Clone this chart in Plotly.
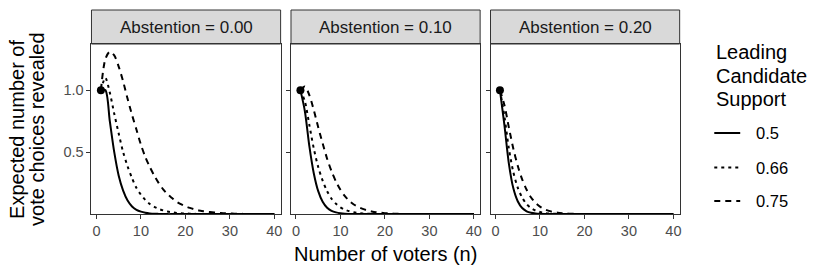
import plotly.graph_objects as go

# ---------------- data ----------------
n_voters = [1, 2, 3, 4, 5, 6, 7, 8, 9, 10,
            11, 12, 13, 14, 15, 16, 17, 18, 19, 20,
            21, 22, 23, 24, 25, 26, 27, 28, 29, 30,
            31, 32, 33, 34, 35, 36, 37, 38, 39, 40]

abstention_labels = ["Abstention = 0.00", "Abstention = 0.10", "Abstention = 0.20"]
support_labels = ["0.5", "0.66", "0.75"]

# Abstention = 0.00
a00_s050 = [1.00, 1.00, 0.75, 0.50, 0.31, 0.19, 0.11, 0.062, 0.035, 0.020,
            0.011, 0.006, 0.003, 0.002, 0.001, 0.0, 0.0, 0.0, 0.0, 0.0,
            0.0, 0.0, 0.0, 0.0, 0.0, 0.0, 0.0, 0.0, 0.0, 0.0,
            0.0, 0.0, 0.0, 0.0, 0.0, 0.0, 0.0, 0.0, 0.0, 0.0]
a00_s066 = [1.00, 1.10, 0.98, 0.81, 0.65, 0.50, 0.385, 0.29, 0.21, 0.157,
            0.114, 0.082, 0.059, 0.042, 0.030, 0.021, 0.015, 0.010, 0.007, 0.005,
            0.0035, 0.0024, 0.0016, 0.0011, 0.0008, 0.0005, 0.0003, 0.0002, 0.0001, 0.0,
            0.0, 0.0, 0.0, 0.0, 0.0, 0.0, 0.0, 0.0, 0.0, 0.0]
a00_s075 = [1.00, 1.25, 1.31, 1.28, 1.19, 1.07, 0.93, 0.80, 0.68, 0.56,
            0.46, 0.38, 0.31, 0.25, 0.20, 0.16, 0.13, 0.10, 0.080, 0.063,
            0.050, 0.039, 0.030, 0.024, 0.019, 0.015, 0.011, 0.009, 0.007, 0.005,
            0.004, 0.003, 0.002, 0.0017, 0.0013, 0.001, 0.0008, 0.0006, 0.0005, 0.0004]

# Abstention = 0.10
a10_s050 = [1.00, 0.83, 0.55, 0.33, 0.185, 0.10, 0.052, 0.027, 0.014, 0.007,
            0.003, 0.0016, 0.0007, 0.0003, 0.0, 0.0, 0.0, 0.0, 0.0, 0.0,
            0.0, 0.0, 0.0, 0.0, 0.0, 0.0, 0.0, 0.0, 0.0, 0.0,
            0.0, 0.0, 0.0, 0.0, 0.0, 0.0, 0.0, 0.0, 0.0, 0.0]
a10_s066 = [1.00, 0.91, 0.72, 0.53, 0.38, 0.27, 0.185, 0.124, 0.083, 0.055,
            0.036, 0.023, 0.015, 0.0095, 0.006, 0.004, 0.0024, 0.0015, 0.001, 0.0006,
            0.0004, 0.0002, 0.0, 0.0, 0.0, 0.0, 0.0, 0.0, 0.0, 0.0,
            0.0, 0.0, 0.0, 0.0, 0.0, 0.0, 0.0, 0.0, 0.0, 0.0]
a10_s075 = [1.00, 1.03, 0.96, 0.84, 0.70, 0.57, 0.447, 0.345, 0.262, 0.196,
            0.145, 0.107, 0.078, 0.057, 0.042, 0.030, 0.022, 0.0155, 0.011, 0.0078,
            0.0055, 0.004, 0.0027, 0.0019, 0.0013, 0.0009, 0.0006, 0.0004, 0.0003, 0.0002,
            0.0, 0.0, 0.0, 0.0, 0.0, 0.0, 0.0, 0.0, 0.0, 0.0]

# Abstention = 0.20
a20_s050 = [1.00, 0.72, 0.41, 0.21, 0.104, 0.049, 0.023, 0.0105, 0.0047, 0.0021,
            0.001, 0.0004, 0.0, 0.0, 0.0, 0.0, 0.0, 0.0, 0.0, 0.0,
            0.0, 0.0, 0.0, 0.0, 0.0, 0.0, 0.0, 0.0, 0.0, 0.0,
            0.0, 0.0, 0.0, 0.0, 0.0, 0.0, 0.0, 0.0, 0.0, 0.0]
a20_s066 = [1.00, 0.79, 0.53, 0.34, 0.214, 0.133, 0.080, 0.048, 0.029, 0.017,
            0.0098, 0.0056, 0.0032, 0.0018, 0.001, 0.0005, 0.0003, 0.0, 0.0, 0.0,
            0.0, 0.0, 0.0, 0.0, 0.0, 0.0, 0.0, 0.0, 0.0, 0.0,
            0.0, 0.0, 0.0, 0.0, 0.0, 0.0, 0.0, 0.0, 0.0, 0.0]
a20_s075 = [1.00, 0.88, 0.70, 0.53, 0.39, 0.28, 0.196, 0.134, 0.091, 0.0605,
            0.040, 0.026, 0.017, 0.011, 0.007, 0.0045, 0.003, 0.0018, 0.001, 0.0006,
            0.0004, 0.0002, 0.0, 0.0, 0.0, 0.0, 0.0, 0.0, 0.0, 0.0,
            0.0, 0.0, 0.0, 0.0, 0.0, 0.0, 0.0, 0.0, 0.0, 0.0]

start_point_n = [1]
start_point_value = [1.0]

x_ticks = [0, 10, 20, 30, 40]
x_tick_labels = ["0", "10", "20", "30", "40"]
y_ticks = [0.5, 1.0]
y_tick_labels = ["0.5", "1.0"]

panel_series = [
    [a00_s050, a00_s066, a00_s075],
    [a10_s050, a10_s066, a10_s075],
    [a20_s050, a20_s066, a20_s075],
]

# ---------------- styling / layout ----------------
W, H = 830, 277
FONT = "Liberation Sans, Arial, sans-serif"
DASHES = ["solid", "3px,4px", "6px,5px"]
panels_px = [(91.7, 281.3), (291.7, 481.3), (491.7, 681.3)]
top_px, bot_px = 44.0, 214.0
strip_top_px = 10.0


def px_x(p):
    return p / W


def px_y(p):
    return 1 - p / H


fig = go.Figure()

for i, series in enumerate(panel_series):
    xa = "x" if i == 0 else f"x{i + 1}"
    ya = "y" if i == 0 else f"y{i + 1}"
    for vals, dash in zip(series, DASHES):
        fig.add_trace(go.Scatter(
            x=n_voters, y=vals, mode="lines",
            line=dict(color="black", width=2, dash=dash, shape="spline", smoothing=0.8),
            xaxis=xa, yaxis=ya, showlegend=False, hoverinfo="skip"))
    fig.add_trace(go.Scatter(
        x=start_point_n, y=start_point_value, mode="markers",
        marker=dict(color="black", size=8),
        xaxis=xa, yaxis=ya, showlegend=False, hoverinfo="skip"))

layout = dict(
    width=W, height=H,
    margin=dict(l=0, r=0, t=0, b=0),
    paper_bgcolor="white", plot_bgcolor="white",
    font=dict(family=FONT, color="black"),
    showlegend=False,
)

shapes = []
annotations = []
for i, (x0, x1) in enumerate(panels_px):
    sfx = "" if i == 0 else str(i + 1)
    layout["xaxis" + sfx] = dict(
        domain=[px_x(x0), px_x(x1)], range=[-1.12, 41.41],
        anchor="y" + sfx, tickvals=x_ticks, ticktext=x_tick_labels,
        ticks="outside", ticklen=4, tickwidth=1, tickcolor="#333333",
        showline=True, mirror=True, linecolor="#333333", linewidth=1,
        showgrid=False, zeroline=False,
        tickfont=dict(family=FONT, size=14.5, color="#4D4D4D"),
    )
    layout["yaxis" + sfx] = dict(
        domain=[px_y(bot_px), px_y(top_px)], range=[0.001, 1.372],
        anchor="x" + sfx, tickvals=y_ticks, ticktext=y_tick_labels,
        showticklabels=(i == 0),
        ticks="outside", ticklen=4, tickwidth=1, tickcolor="#333333",
        showline=True, mirror=True, linecolor="#333333", linewidth=1,
        showgrid=False, zeroline=False,
        tickfont=dict(family=FONT, size=14.5, color="#4D4D4D"),
    )
    # facet strip
    shapes.append(dict(type="rect", xref="paper", yref="paper",
                       x0=px_x(x0), x1=px_x(x1), y0=px_y(top_px), y1=px_y(strip_top_px),
                       fillcolor="#D9D9D9", line=dict(color="#333333", width=1),
                       layer="below"))
    annotations.append(dict(text=abstention_labels[i], xref="paper", yref="paper",
                            x=px_x((x0 + x1) / 2), y=px_y((top_px + strip_top_px) / 2),
                            xanchor="center", yanchor="middle", showarrow=False,
                            font=dict(family=FONT, size=17, color="#1A1A1A")))

# axis titles
annotations.append(dict(text="Number of voters (n)", xref="paper", yref="paper",
                        x=px_x(386.5), y=px_y(254), xanchor="center", yanchor="middle",
                        showarrow=False, font=dict(family=FONT, size=20, color="black")))
annotations.append(dict(text="Expected number of", xref="paper", yref="paper",
                        x=px_x(17), y=px_y(129), xanchor="center", yanchor="middle",
                        textangle=-90, showarrow=False,
                        font=dict(family=FONT, size=20, color="black")))
annotations.append(dict(text="vote choices revealed", xref="paper", yref="paper",
                        x=px_x(37), y=px_y(129), xanchor="center", yanchor="middle",
                        textangle=-90, showarrow=False,
                        font=dict(family=FONT, size=20, color="black")))

# legend
for txt, yc in zip(["Leading", "Candidate", "Support"], [52, 75.5, 99]):
    annotations.append(dict(text=txt, xref="paper", yref="paper",
                            x=px_x(716), y=px_y(yc), xanchor="left", yanchor="middle",
                            showarrow=False, font=dict(family=FONT, size=20, color="black")))
for lab, dash, yc in zip(support_labels, DASHES, [133, 167.5, 201]):
    shapes.append(dict(type="line", xref="paper", yref="paper",
                       x0=px_x(716), x1=px_x(742), y0=px_y(yc), y1=px_y(yc),
                       line=dict(color="black", width=2, dash=dash)))
    annotations.append(dict(text=lab, xref="paper", yref="paper",
                            x=px_x(756), y=px_y(yc), xanchor="left", yanchor="middle",
                            showarrow=False, font=dict(family=FONT, size=16.5, color="black")))

layout["shapes"] = shapes
layout["annotations"] = annotations
fig.update_layout(**layout)

fig.write_html(
    "out.html",
    config={"displayModeBar": False, "staticPlot": True},
    post_script="document.body.style.margin='0';document.body.style.padding='0';"
                "document.documentElement.style.overflow='hidden';",
)
